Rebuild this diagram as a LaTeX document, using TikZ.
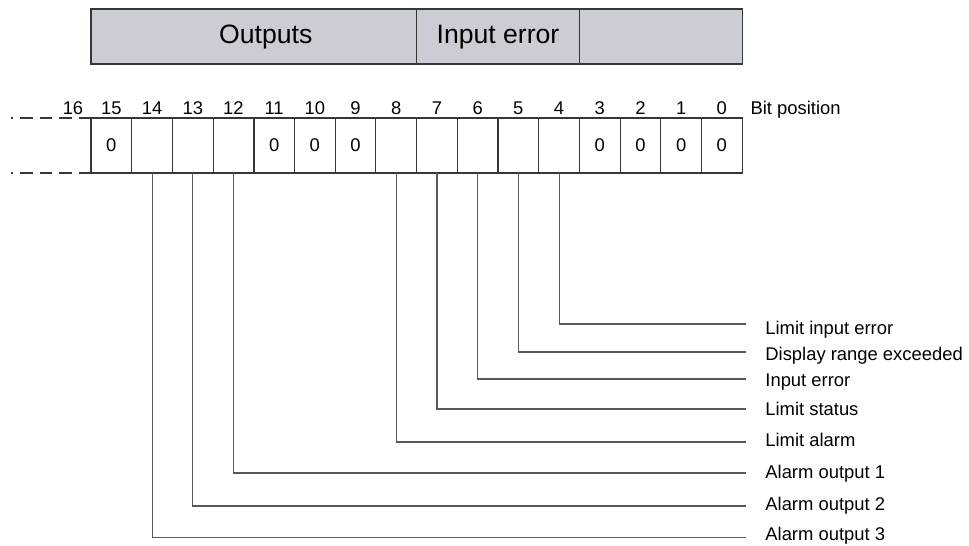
\documentclass[tikz,border=0pt]{standalone}
\usepackage{fontspec}
\setmainfont{Liberation Sans}
\usetikzlibrary{positioning}

\definecolor{barfill}{RGB}{202,205,212}
\definecolor{linegray}{RGB}{55,55,55}

\tikzset{
  bitcell/.style={draw=linegray, line width=0.55pt, minimum width=20.35pt, minimum height=27.5pt,
    inner sep=0pt, outer sep=0pt, font=\fontsize{9.2}{11}\selectfont},
  nibble/.style={draw=linegray, line width=0.9pt},
  bitnum/.style={inner sep=0pt, text height=6.6pt, text depth=0pt, font=\fontsize{9.2}{11}\selectfont},
  groupbox/.style={draw=linegray, fill=barfill, line width=0.55pt, minimum height=27.5pt,
    inner sep=0pt, outer sep=0pt},
  grouplabel/.style={inner sep=0pt, text height=9.6pt, text depth=2.8pt, font=\fontsize{13.3}{16}\selectfont},
  leader/.style={draw=black!65, line width=0.55pt},
  siglabel/.style={anchor=base west, inner sep=0pt, font=\fontsize{9.2}{11}\selectfont},
  dashline/.style={draw=linegray, line width=0.55pt, dash pattern=on 6.25pt off 3.5pt}
}

\begin{document}
\begin{tikzpicture}[x=0.5pt, y=-0.5pt]

\useasboundingbox (0,0) rectangle (969,546);

% --- Celdas de bits ---

\node[bitcell, anchor=north west] (b15) at (91,118) {0};
\node[bitcell, right=0pt of b15] (b14) {};
\node[bitcell, right=0pt of b14] (b13) {};
\node[bitcell, right=0pt of b13] (b12) {};
\node[bitcell, right=0pt of b12] (b11) {0};
\node[bitcell, right=0pt of b11] (b10) {0};
\node[bitcell, right=0pt of b10] (b9) {0};
\node[bitcell, right=0pt of b9] (b8) {};
\node[bitcell, right=0pt of b8] (b7) {};
\node[bitcell, right=0pt of b7] (b6) {};
\node[bitcell, right=0pt of b6] (b5) {};
\node[bitcell, right=0pt of b5] (b4) {};
\node[bitcell, right=0pt of b4] (b3) {0};
\node[bitcell, right=0pt of b3] (b2) {0};
\node[bitcell, right=0pt of b2] (b1) {0};
\node[bitcell, right=0pt of b1] (b0) {0};

% Limites de nibble
\draw[nibble] (b11.north west) -- (b11.south west);
\draw[nibble] (b3.north west) -- (b3.south west);

% Continuacion (bit 16)
\coordinate (dtop) at ([xshift=-40pt]b15.north west);
\coordinate (dbot) at ([xshift=-40pt]b15.south west);
\draw[dashline] (b15.north west) -- (dtop);
\draw[dashline] (b15.south west) -- (dbot);


% --- Numeros de bit ---

\coordinate (c16) at ([xshift=-9pt]b15.north west);
\node[bitnum, above=1.75pt of c16] (n16) {16};
\node[bitnum, above=1.75pt of b15] (n15) {15};
\node[bitnum, above=1.75pt of b14] (n14) {14};
\node[bitnum, above=1.75pt of b13] (n13) {13};
\node[bitnum, above=1.75pt of b12] (n12) {12};
\node[bitnum, above=1.75pt of b11] (n11) {11};
\node[bitnum, above=1.75pt of b10] (n10) {10};
\node[bitnum, above=1.75pt of b9] (n9) {9};
\node[bitnum, above=1.75pt of b8] (n8) {8};
\node[bitnum, above=1.75pt of b7] (n7) {7};
\node[bitnum, above=1.75pt of b6] (n6) {6};
\node[bitnum, above=1.75pt of b5] (n5) {5};
\node[bitnum, above=1.75pt of b4] (n4) {4};
\node[bitnum, above=1.75pt of b3] (n3) {3};
\node[bitnum, above=1.75pt of b2] (n2) {2};
\node[bitnum, above=1.75pt of b1] (n1) {1};
\node[bitnum, above=1.75pt of b0] (n0) {0};
\node[bitnum, anchor=base west] (bitpos) at ([xshift=4pt]b0.north east |- n0.base) {Bit position};


% --- Grupos ---

\node[groupbox, minimum width=162.8pt, anchor=south west] (g_out) at ([yshift=27pt]b15.north west) {};
\node[groupbox, minimum width=81.4pt, right=0pt of g_out] (g_in) {};
\node[groupbox, minimum width=81.4pt, right=0pt of g_in] (g_res) {};
\node[grouplabel] (t_out) at ([xshift=6pt]g_out.center) {Outputs};
\node[grouplabel] (t_in) at (g_in.center) {Input error};


% --- Lineas de senal ---

\coordinate (e4) at (746,324);
\coordinate (e5) at (746,352);
\coordinate (e6) at (746,379);
\coordinate (e7) at (746,409);
\coordinate (e8) at (746,442);
\coordinate (e12) at (746,473);
\coordinate (e13) at (746,506);
\coordinate (e14) at (746,537.5);

\draw[leader] (b4.south) |- (e4);
\draw[leader] (b5.south) |- (e5);
\draw[leader] (b6.south) |- (e6);
\draw[leader] (b7.south) |- (e7);
\draw[leader] (b8.south) |- (e8);
\draw[leader] (b12.south) |- (e12);
\draw[leader] (b13.south) |- (e13);
\draw[leader] (b14.south) |- (e14);

% Etiquetas
\node[siglabel] (l4) at (765,334) {Limit input error};
\node[siglabel] (l5) at (765,360) {Display range exceeded};
\node[siglabel] (l6) at (765,386) {Input error};
\node[siglabel] (l7) at (765,415.5) {Limit status};
\node[siglabel] (l8) at (765,446) {Limit alarm};
\node[siglabel] (l12) at (765,478) {Alarm output 1};
\node[siglabel] (l13) at (765,510) {Alarm output 2};
\node[siglabel] (l14) at (765,540) {Alarm output 3};

\end{tikzpicture}
\end{document}
